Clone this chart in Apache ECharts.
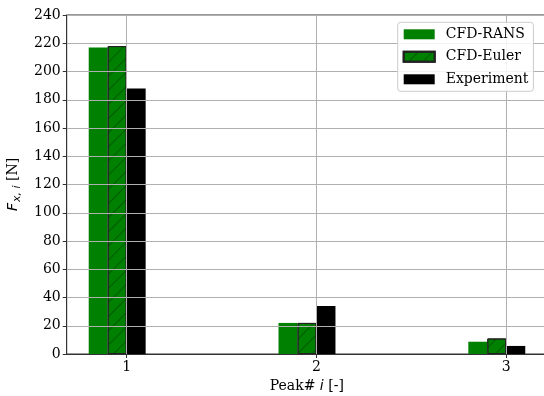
<!DOCTYPE html>
<html>
<head>
<meta charset="utf-8">
<script src="https://cdn.jsdelivr.net/npm/echarts@6/dist/echarts.min.js"></script>
<style>
  html, body { margin: 0; padding: 0; background: #fff; }
  #chart { width: 544px; height: 396px; }
</style>
</head>
<body>
<div id="chart"></div>
<script>
// Peak forces per peak index
const peaks = [1, 2, 3];
const rans = [217, 22, 8.7];
const euler = [218, 22, 11];
const experiment = [188, 34, 5.7];
const yTicks = [0, 20, 40, 60, 80, 100, 120, 140, 160, 180, 200, 220, 240];

const BAR_W = 0.1;               // bar width in x-axis units
const SERIF = 'DejaVu Serif';
const GREEN = '#008000';

function pairs(values, offset) {
  return peaks.map((p, i) => [p + offset, values[i]]);
}

const chart = echarts.init(document.getElementById('chart'), null, { renderer: 'canvas' });

const xMin = 0.684, xMax = 3.214;
const gridLeft = 66.7, gridTop = 15, gridW = 480.2, gridH = 339;
const pxPerUnit = gridW / (xMax - xMin);
const barPx = BAR_W * pxPerUnit;

const baseBar = {
  type: 'bar',
  barWidth: barPx,
  barGap: '-100%',
  z: 2
};

chart.setOption({
  animation: false,
  backgroundColor: '#fff',
  textStyle: { fontFamily: SERIF },
  grid: {
    left: gridLeft, top: gridTop, width: gridW, height: gridH,
    outerBoundsMode: 'none',
    containLabel: false,
    show: true, borderColor: '#333', borderWidth: 1, backgroundColor: 'transparent'
  },
  legend: {
    data: ['CFD-RANS', 'CFD-Euler', 'Experiment'],
    orient: 'vertical',
    left: 397.7, top: 22.3,
    padding: [5, 5, 5, 5],
    itemWidth: 31, itemHeight: 10, itemGap: 8.5,
    icon: 'rect',
    backgroundColor: 'rgba(255,255,255,0.85)',
    borderColor: '#cccccc', borderWidth: 1, borderRadius: 3,
    textStyle: { fontFamily: SERIF, fontSize: 14, color: '#000', lineHeight: 14, padding: [0, 0, 0, 6] }
  },
  xAxis: {
    type: 'value',
    min: xMin, max: xMax,
    z: 3,
    name: '{r|Peak# }{i|i}{r| [-]}',
    nameLocation: 'middle',
    nameGap: 23,
    nameTextStyle: {
      rich: {
        r: { fontFamily: SERIF, fontSize: 14, color: '#000' },
        i: { fontFamily: 'DejaVu Sans', fontStyle: 'italic', fontSize: 14, color: '#000' }
      }
    },
    axisLine: { show: true, lineStyle: { color: '#333', width: 1 } },
    axisTick: { show: true, length: 4, inside: false, customValues: peaks, lineStyle: { color: '#333' } },
    axisLabel: { customValues: peaks, fontFamily: SERIF, fontSize: 14, color: '#000', margin: 6, formatter: v => String(v) },
    splitLine: { show: true, lineStyle: { color: '#b0b0b0', width: 1 } }
  },
  yAxis: {
    type: 'value',
    min: 0, max: 240, interval: 20,
    z: 3,
    name: '{f|F}{s|x, i}{r| [N]}',
    nameLocation: 'middle',
    nameGap: 37,
    nameTextStyle: {
      rich: {
        f: { fontFamily: 'DejaVu Sans', fontStyle: 'italic', fontSize: 14, color: '#000', lineHeight: 18, verticalAlign: 'bottom' },
        s: { fontFamily: 'DejaVu Sans', fontStyle: 'italic', fontSize: 11, color: '#000', lineHeight: 18, verticalAlign: 'bottom', padding: [0, 0, -3, 1] },
        r: { fontFamily: SERIF, fontSize: 14, color: '#000', lineHeight: 18, verticalAlign: 'bottom' }
      }
    },
    axisLine: { show: true, lineStyle: { color: '#333', width: 1 } },
    axisTick: { show: true, length: 4, inside: false, lineStyle: { color: '#333' } },
    axisLabel: { fontFamily: SERIF, fontSize: 14, color: '#000', margin: 6, formatter: v => String(v) },
    splitLine: { show: true, lineStyle: { color: '#b0b0b0', width: 1 } }
  },
  series: [
    Object.assign({}, baseBar, {
      name: 'CFD-RANS',
      data: pairs(rans, -1.5 * BAR_W),
      itemStyle: { color: GREEN }
    }),
    Object.assign({}, baseBar, {
      name: 'CFD-Euler',
      data: pairs(euler, -0.5 * BAR_W),
      itemStyle: {
        color: GREEN,
        borderColor: '#222',
        borderWidth: 1,
        decal: {
          symbol: 'rect',
          color: 'rgba(0,0,0,0.3)',
          dashArrayX: [1, 0],
          dashArrayY: [1, 9],
          rotation: -Math.PI / 4
        }
      }
    }),
    Object.assign({}, baseBar, {
      name: 'Experiment',
      data: pairs(experiment, 0.5 * BAR_W),
      itemStyle: { color: '#000' }
    })
  ]
});
</script>
</body>
</html>
